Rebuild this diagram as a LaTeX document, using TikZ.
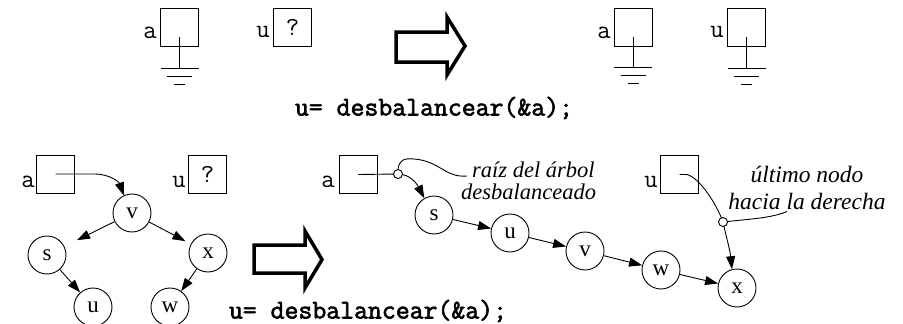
\documentclass[tikz,border=0pt]{standalone}
\usepackage{fontspec}
\setmainfont{Liberation Serif}
\newfontfamily\codefont{Latin Modern Mono}[FakeBold=2.2]
\usetikzlibrary{arrows.meta}
\begin{document}
\begin{tikzpicture}[x=1pt,y=-1pt,
  thin line/.style={line width=0.9pt},
  cell/.style={draw, thin line, rectangle, minimum size=38pt, inner sep=0pt, outer sep=0pt},
  lbl/.style={font=\ttfamily\fontsize{26}{26}\selectfont, inner sep=0pt, anchor=base east},
  qmark/.style={font=\ttfamily\fontsize{26}{26}\selectfont, inner sep=0pt, anchor=base},
  treenode/.style={draw, thin line, circle, minimum size=38pt, inner sep=0pt,
    font=\fontsize{23}{23}\selectfont},
  link/.style={thin line, -{Triangle[length=13pt,width=9pt]}},
  bigarrow/.style={line width=3.5pt, line join=miter},
  code/.style={font=\codefont\fontsize{27}{27}\selectfont, inner sep=0pt},
  note/.style={font=\itshape\fontsize{22.5}{27}\selectfont, inner sep=0pt},
  ring/.style={draw, thin line, fill=white}]
\useasboundingbox (0,0) rectangle (903,324);

% ---- before/after for a plain pointer ----
\node[cell] (A1) at (179.5,27.5) {};
\node[lbl] (lA1) at (157,38) {a};
\node[cell] (U1) at (292.5,27) {};
\node[lbl] (lU1) at (270,37) {u};
\node[qmark] (q1) at (292.5,35) {?};

\draw[bigarrow] (396,32) -- (447,32) -- (447,17) -- (465,46) -- (447,75)
  -- (447,62) -- (396,62) -- cycle;

\node[cell] (A2) at (633,27) {};
\node[lbl] (lA2) at (611,38) {a};
\node[cell] (U2) at (746.5,27.5) {};
\node[lbl] (lU2) at (724,37) {u};

% ground symbols (null pointers)
\foreach \b in {A1,A2,U2}{
  \draw[thin line] (\b.center) ++(0,9.5) -- ++(0,31);
  \draw[thin line] (\b.center) ++(-19,40.5) -- ++(38,0);
  \draw[thin line] (\b.center) ++(-12.5,48.5) -- ++(25,0);
  \draw[thin line] (\b.center) ++(-5.5,56.5) -- ++(11,0);
}

\node[code] (c1) at (434,108) {u= desbalancear(\&a);};

% ---- before: the tree ----
\node[cell] (A3) at (55.5,174) {};
\node[lbl] (lA3) at (35,187) {a};
\node[cell] (U3) at (207.5,174) {};
\node[lbl] (lU3) at (186,187) {u};
\node[qmark] (q3) at (207.5,182) {?};

\node[treenode] (tv) at (132,213) {v};
\node[treenode] (ts) at (47,255) {s};
\node[treenode] (tx) at (208,253) {x};
\node[treenode] (tu) at (93,307) {u};
\node[treenode] (tw) at (170,307) {w};

\draw[link] (A3.center) -- (94,174) .. controls (110,174) and (119,182) .. (tv.115);
\draw[link, shorten >=14pt] (tv) -- (ts);
\draw[link, shorten >=6pt] (tv) -- (tx);
\draw[link] (ts) -- (tu);
\draw[link] (tx) -- (tw);

\draw[bigarrow] (254,245) -- (305,245) -- (305,231) -- (322,259.5) -- (305,288)
  -- (305,273) -- (254,273) -- cycle;

\node[code] (c2) at (368,311) {u= desbalancear(\&a);};

% ---- after: the right-leaning chain ----
\node[cell] (A4) at (358,174.5) {};
\node[lbl] (lA4) at (335,187) {a};
\node[cell] (U4) at (679.5,174.5) {};
\node[lbl] (lU4) at (658,187) {u};

\node[treenode] (cs) at (434,215) {s};
\node[treenode] (cu) at (510,233) {u};
\node[treenode] (cv) at (585,251) {v};
\node[treenode] (cw) at (661,270) {w};
\node[treenode] (cx) at (737,288) {x};

\draw[link] (cs) -- (cu);
\draw[link] (cu) -- (cv);
\draw[link] (cv) -- (cw);
\draw[link] (cw) -- (cx);

\coordinate (r1) at (398,174);
\coordinate (r2) at (723,222);

\draw[link] (A4.center) -- (r1) .. controls (410,174) and (417,184) .. (cs.120);
\draw[link] (U4.center) -- (687,174.5) .. controls (700,178) and (717,205) .. (r2)
  .. controls (726,236) and (730,250) .. (cx.105);

% callouts
\draw[thin line] (398,169.5) .. controls (399,160) and (404,158) .. (414,159)
  .. controls (440,161) and (445,178) .. (467,176);
\draw[thin line] (727.5,221.5) .. controls (750,219) and (772,218) .. (787,211.5);
\draw[ring] (r1) circle (4.5);
\draw[ring] (r2) circle (4.5);

\node[note, anchor=base west] (n1) at (472,177) {raíz del árbol};
\node[note, anchor=base west] (n2) at (461,199) {desbalanceado};
\node[note, align=center, font=\itshape\fontsize{23.5}{27}\selectfont] (n3) at (807,188) {último nodo\\hacia la derecha};
\end{tikzpicture}
\end{document}
